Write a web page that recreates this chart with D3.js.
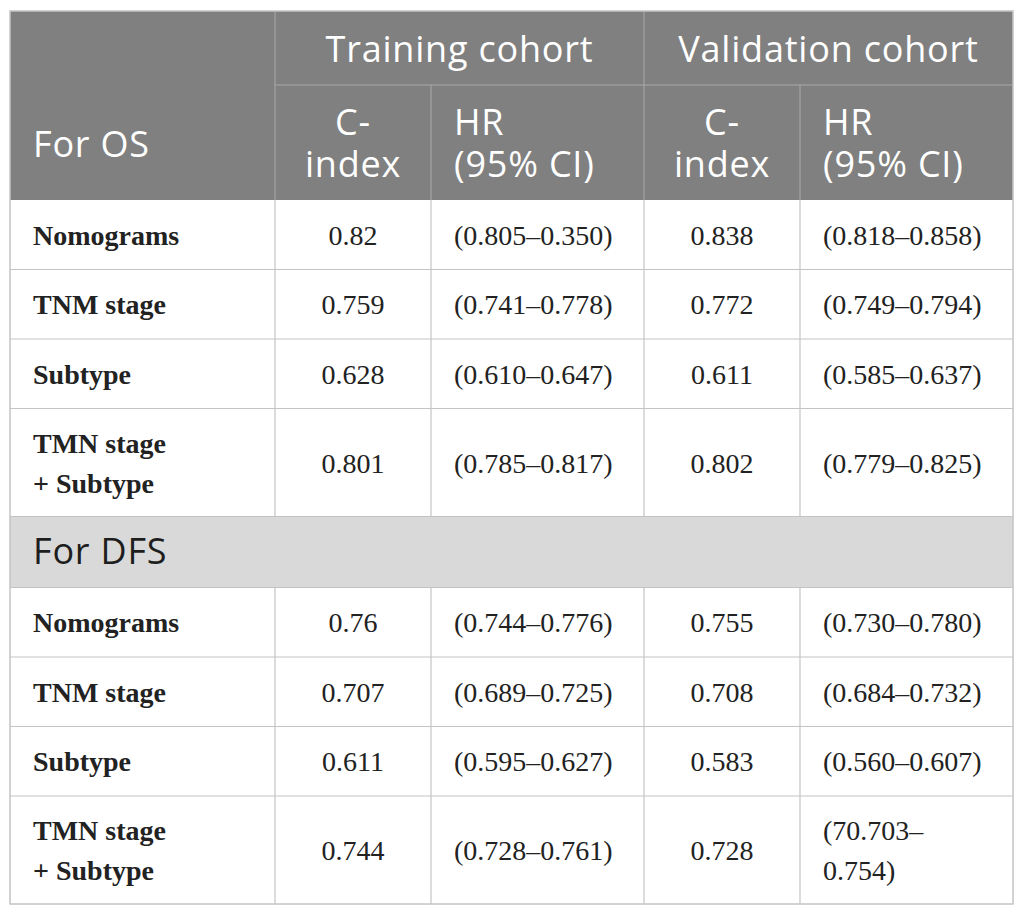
<!DOCTYPE html>
<html>
<head>
    <meta charset="utf-8">
    <title>C-index table</title>
    <script src="https://d3js.org/d3.v7.min.js"></script>
    <style type="text/css">
        body { margin: 0; background: #fff; }
        .head text { font-family: "Open Sans", sans-serif; font-size: 36px; letter-spacing: 0.8px; fill: #fff; }
        .section text { font-family: "Open Sans", sans-serif; font-size: 36px; letter-spacing: 0.8px; fill: #1e1e1e; }
        .body text { font-family: "Liberation Serif", serif; font-size: 28px; fill: #222; }
        .body text.label { font-weight: bold; }
    </style>
</head>
<body>
<script>
    // data
    var cohorts = ["Training cohort", "Validation cohort"];
    var subHeads = ["C-index", "HR (95%\u00a0CI)"];
    var sections = ["For OS", "For DFS"];
    var models = ["Nomograms", "TNM stage", "Subtype", "TMN stage +\u00a0Subtype"];
    var osTrainC = ["0.82", "0.759", "0.628", "0.801"];
    var osTrainHR = ["(0.805–0.350)", "(0.741–0.778)", "(0.610–0.647)", "(0.785–0.817)"];
    var osValidC = ["0.838", "0.772", "0.611", "0.802"];
    var osValidHR = ["(0.818–0.858)", "(0.749–0.794)", "(0.585–0.637)", "(0.779–0.825)"];
    var dfsTrainC = ["0.76", "0.707", "0.611", "0.744"];
    var dfsTrainHR = ["(0.744–0.776)", "(0.689–0.725)", "(0.595–0.627)", "(0.728–0.761)"];
    var dfsValidC = ["0.755", "0.708", "0.583", "0.728"];
    var dfsValidHR = ["(0.730–0.780)", "(0.684–0.732)", "(0.560–0.607)", "(70.703–0.754)"];

    // layout
    var w = 1025, h = 916;
    var colEdges = [10, 275, 431, 644, 800, 1013];
    var pad = 22;
    var tableTop = 11, head1 = 74, head2 = 115, sectH = 71, rowH = 69.5, tallH = 108;

    var svg = d3.select("body").append("svg")
        .attr("width", w).attr("height", h);

    // build rows of the body
    function rowsFor(c1, h1, c2, h2) {
        return models.map(function(m, i) {
            return [m, c1[i], h1[i], c2[i], h2[i]];
        });
    }
    var osRows = rowsFor(osTrainC, osTrainHR, osValidC, osValidHR);
    var dfsRows = rowsFor(dfsTrainC, dfsTrainHR, dfsValidC, dfsValidHR);

    // text wrap: break after spaces and dashes
    function wrapLines(sel, str, maxW) {
        var parts = str.split(/(?<=[ \-–])/);
        var lines = [], cur = "";
        var probe = sel.append("tspan");
        parts.forEach(function(p) {
            var test = cur + p;
            probe.text(test.trim());
            if (cur && probe.node().getComputedTextLength() > maxW) {
                lines.push(cur.trim());
                cur = p;
            } else {
                cur = test;
            }
        });
        lines.push(cur.trim());
        probe.remove();
        return lines;
    }

    function cellText(g, str, x0, x1, y0, y1, align, lh, off) {
        var t = g.append("text");
        var lines = wrapLines(t, str, x1 - x0 - 2 * pad);
        var cy = (y0 + y1) / 2 - (lines.length - 1) * lh / 2 + off;
        var x = align === "middle" ? (x0 + x1) / 2 : x0 + pad + 1;
        t.attr("text-anchor", align === "middle" ? "middle" : "start");
        lines.forEach(function(l, i) {
            t.append("tspan").attr("x", x).attr("y", cy + i * lh).text(l);
        });
        return t;
    }

    var x0 = colEdges[0], x1 = colEdges[colEdges.length - 1];
    var lines = [];

    // header
    var gh = svg.append("g").attr("class", "head");
    var hBottom = tableTop + head1 + head2;
    gh.append("rect").attr("x", x0).attr("y", tableTop)
        .attr("width", x1 - x0).attr("height", head1 + head2)
        .attr("fill", "#808080");
    cohorts.forEach(function(c, i) {
        cellText(gh, c, colEdges[1 + 2 * i], colEdges[3 + 2 * i], tableTop, tableTop + head1, "middle", 42, 14);
        subHeads.forEach(function(s, j) {
            var ci = 1 + 2 * i + j;
            cellText(gh, s, colEdges[ci], colEdges[ci + 1], tableTop + head1, hBottom,
                j === 0 ? "middle" : "start", 42, 13);
        });
    });
    cellText(gh, sections[0], colEdges[0], colEdges[1], tableTop + head1, hBottom, "start", 42, 14.5);
    gh.append("line").attr("x1", colEdges[1]).attr("x2", x1)
        .attr("y1", tableTop + head1).attr("y2", tableTop + head1).attr("stroke", "#a9a9a9");
    [1, 3].forEach(function(k) {
        gh.append("line").attr("x1", colEdges[k]).attr("x2", colEdges[k])
            .attr("y1", tableTop).attr("y2", hBottom).attr("stroke", "#a9a9a9");
    });
    [2, 4].forEach(function(k) {
        gh.append("line").attr("x1", colEdges[k]).attr("x2", colEdges[k])
            .attr("y1", tableTop + head1).attr("y2", hBottom).attr("stroke", "#a9a9a9");
    });

    // body rows
    var gb = svg.append("g").attr("class", "body");
    var y = hBottom;
    function drawRows(rows) {
        rows.forEach(function(r, i) {
            var rh = i === rows.length - 1 ? tallH : rowH;
            r.forEach(function(v, k) {
                var al = (k === 1 || k === 3) ? "middle" : "start";
                var t = cellText(gb, v, colEdges[k], colEdges[k + 1], y, y + rh, al, 40, 10);
                if (k === 0) t.attr("class", "label");
            });
            y += rh;
            lines.push(y);
        });
    }
    var bodyTop = y;
    drawRows(osRows);

    // DFS section row
    var gs = svg.append("g").attr("class", "section");
    var sectTop = y;
    gs.append("rect").attr("x", x0).attr("y", y).attr("width", x1 - x0)
        .attr("height", sectH).attr("fill", "#d9d9d9");
    cellText(gs, sections[1], colEdges[0], colEdges[1], y, y + sectH, "start", 42, 12);
    y += sectH;
    lines.push(y);
    var dfsTop = y;
    drawRows(dfsRows);

    // grid lines
    var gl = svg.append("g");
    gl.selectAll("line.h").data(lines.slice(0, -1)).enter().append("line")
        .attr("x1", x0).attr("x2", x1)
        .attr("y1", function(d) { return d; }).attr("y2", function(d) { return d; })
        .attr("stroke", "#c4c4c4").attr("stroke-width", 1.2);
    [[bodyTop, sectTop], [dfsTop, y]].forEach(function(seg) {
        colEdges.slice(1, -1).forEach(function(cx) {
            gl.append("line").attr("x1", cx).attr("x2", cx)
                .attr("y1", seg[0]).attr("y2", seg[1])
                .attr("stroke", "#c4c4c4").attr("stroke-width", 1.2);
        });
    });
    gl.append("rect").attr("x", x0).attr("y", tableTop)
        .attr("width", x1 - x0).attr("height", y - tableTop)
        .attr("fill", "none").attr("stroke", "#c4c4c4").attr("stroke-width", 1.5);
</script>
</body>
</html>
